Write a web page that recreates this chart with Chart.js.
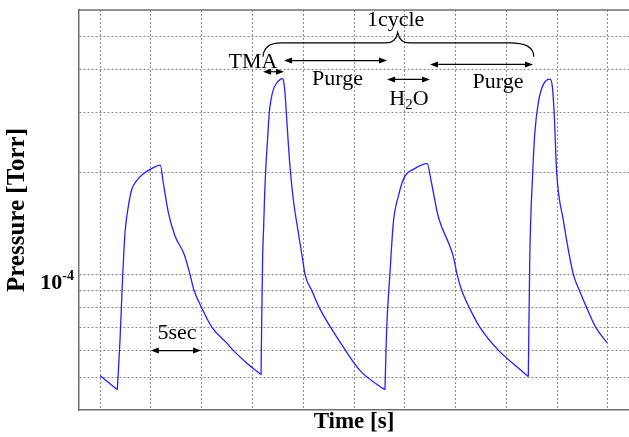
<!DOCTYPE html>
<html>
<head>
<meta charset="utf-8">
<script src="https://cdn.jsdelivr.net/npm/chart.js@4"></script>
<style>
  html, body { margin: 0; padding: 0; background: #fff; }
  canvas { display: block; }
</style>
</head>
<body>
<canvas id="pressure" width="629" height="437"></canvas>
<script>
// time [s]
var timeS = [0, 1.7, 1.97, 2.2, 2.46, 2.79, 3.12, 3.61, 4.27, 5.08, 5.94, 6.23, 6.73, 7.38, 8.3, 8.86,
  9.25, 10.0, 11.02, 12.47, 13.09, 14.43, 15.85,
  16.0, 16.11, 16.21, 16.31, 16.47, 16.66, 16.83, 17.06, 17.39, 17.72, 17.94,
  18.04, 18.21, 18.38, 18.53, 18.7, 19.03, 19.52, 19.95, 20.18, 20.83, 21.58, 22.7, 24.15, 25.6, 27.56, 28.05,
  28.2, 28.54, 28.87, 29.36, 30.0, 30.84, 32.2,
  32.63, 33.3, 34.45, 34.78, 35.15, 35.6, 36.35, 37.4, 39.2, 41.0, 42.16,
  42.3, 42.59, 42.8, 43.14, 43.63, 44.29,
  44.52, 44.7, 44.95, 45.6, 46.6, 47.18, 47.9, 48.8, 49.93];
// pressure [Torr]
var pressureTorr = [5.05e-5, 4.59e-5, 6.44e-5, 9.47e-5, 1.33e-4, 1.59e-4, 1.78e-4, 1.89e-4, 1.98e-4,
  2.05e-4, 2.10e-4, 1.86e-4, 1.52e-4, 1.30e-4, 1.145e-4, 1.0e-4,
  9.0e-5, 8.0e-5, 7.0e-5, 6.3e-5, 6.0e-5, 5.5e-5, 5.08e-5,
  1.107e-4, 1.39e-4, 1.74e-4, 2.04e-4, 2.44e-4, 2.99e-4, 3.27e-4, 3.50e-4, 3.66e-4, 3.745e-4, 3.77e-4,
  3.74e-4, 3.42e-4, 2.86e-4, 2.44e-4, 2.08e-4, 1.66e-4, 1.33e-4, 1.107e-4, 1.0e-4, 9.0e-5, 8.0e-5,
  7.0e-5, 6.0e-5, 5.22e-5, 4.69e-5, 4.59e-5,
  6.74e-5, 1.01e-4, 1.42e-4, 1.70e-4, 1.945e-4, 2.04e-4, 2.12e-4,
  1.86e-4, 1.48e-4, 1.21e-4, 1.13e-4, 1.0e-4, 9.0e-5, 8.0e-5, 7.0e-5, 6.0e-5, 5.37e-5, 5.02e-5,
  1.107e-4, 1.99e-4, 2.61e-4, 3.20e-4, 3.62e-4, 3.76e-4,
  3.58e-4, 3.0e-4, 2.0e-4, 1.45e-4, 1.0e-4, 9.0e-5, 8.0e-5, 7.0e-5, 6.3e-5];

var xTicks = [0, 5, 10, 15, 20, 25, 30, 35, 40, 45, 50];
var yTicks = [5e-5, 6e-5, 7e-5, 8e-5, 9e-5, 1e-4, 2e-4, 3e-4, 4e-4, 5e-4];
// only one labelled tick: 10^-4
var yLabelValue = 1e-4;
var yLabelBase = '10';
var yLabelExp = '-4';

// annotations, in data units (time, pressure)
var arrows = [
  {from: 16.04, to: 18.11, p: 3.95e-4},
  {from: 18.11, to: 28.25, p: 4.26e-4},
  {from: 28.25, to: 32.48, p: 3.75e-4},
  {from: 32.48, to: 42.62, p: 4.15e-4},
  {from: 5.0, to: 9.94, p: 5.98e-5}
];
var notes = [
  {text: 'TMA', t: 15.06, p: 4.06e-4},
  {text: 'Purge', t: 23.38, p: 3.62e-4},
  {text: 'Purge', t: 39.17, p: 3.55e-4},
  {text: '1cycle', t: 29.1, p: 5.40e-4},
  {text: '5sec', t: 7.58, p: 6.48e-5}
];
var waterNote = {t: 30.41, p: 3.16e-4};
var brace = {from: 16.04, to: 42.7, mid: 29.3, pEnd: 4.37e-4, pBar: 4.8e-4, pTip: 5.15e-4};

var serif = '"Liberation Serif", "Times New Roman", serif';
var gridColor = '#8a8a8a';
var frameColor = '#6e6e6e';
var lineColor = 'rgb(35, 35, 255)';

var annotate = {
  id: 'annotate',
  afterDraw: function(chart) {
    var ctx = chart.ctx, xs = chart.scales.x, ys = chart.scales.y, area = chart.chartArea;
    ctx.save();

    // top frame line
    ctx.strokeStyle = frameColor;
    ctx.lineWidth = 1.5;
    ctx.beginPath();
    ctx.moveTo(area.left, area.top);
    ctx.lineTo(area.right, area.top);
    ctx.stroke();

    // y label 10^-4
    var py = ys.getPixelForValue(yLabelValue);
    ctx.fillStyle = '#000';
    ctx.textBaseline = 'alphabetic';
    ctx.textAlign = 'left';
    ctx.font = 'bold 14px ' + serif;
    var expW = ctx.measureText(yLabelExp).width;
    ctx.font = 'bold 22px ' + serif;
    var baseW = ctx.measureText(yLabelBase).width;
    var xEnd = area.left - 5;
    ctx.fillText(yLabelBase, xEnd - expW - baseW, py + 14);
    ctx.font = 'bold 14px ' + serif;
    ctx.fillText(yLabelExp, xEnd - expW, py + 5);

    // arrows
    ctx.strokeStyle = '#000';
    ctx.lineWidth = 1.2;
    arrows.forEach(function(a) {
      var x1 = xs.getPixelForValue(a.from), x2 = xs.getPixelForValue(a.to);
      var y = ys.getPixelForValue(a.p);
      ctx.beginPath();
      ctx.moveTo(x1 + 4, y);
      ctx.lineTo(x2 - 4, y);
      ctx.stroke();
      ctx.beginPath();
      ctx.moveTo(x1, y); ctx.lineTo(x1 + 8, y - 3); ctx.lineTo(x1 + 8, y + 3); ctx.closePath();
      ctx.moveTo(x2, y); ctx.lineTo(x2 - 8, y - 3); ctx.lineTo(x2 - 8, y + 3); ctx.closePath();
      ctx.fill();
    });

    // brace
    var xl = xs.getPixelForValue(brace.from), xr = xs.getPixelForValue(brace.to);
    var xm = xs.getPixelForValue(brace.mid);
    var yE = ys.getPixelForValue(brace.pEnd), yB = ys.getPixelForValue(brace.pBar);
    var yT = ys.getPixelForValue(brace.pTip);
    ctx.beginPath();
    ctx.moveTo(xl, yE);
    ctx.quadraticCurveTo(xl + 1, yB, xl + 18, yB);
    ctx.lineTo(xm - 12, yB);
    ctx.quadraticCurveTo(xm - 2, yB, xm, yT);
    ctx.quadraticCurveTo(xm + 2, yB, xm + 12, yB);
    ctx.lineTo(xr - 24, yB);
    ctx.quadraticCurveTo(xr, yB, xr, yE);
    ctx.stroke();

    // text
    ctx.font = '22px ' + serif;
    ctx.textAlign = 'center';
    notes.forEach(function(n) {
      ctx.fillText(n.text, xs.getPixelForValue(n.t), ys.getPixelForValue(n.p));
    });

    // H2O with subscript
    var wx = xs.getPixelForValue(waterNote.t), wy = ys.getPixelForValue(waterNote.p);
    ctx.textAlign = 'left';
    ctx.font = '22px ' + serif;
    var wH = ctx.measureText('H').width, wO = ctx.measureText('O').width;
    ctx.font = '15px ' + serif;
    var w2 = ctx.measureText('2').width;
    var x0 = wx - (wH + w2 + wO) / 2;
    ctx.font = '22px ' + serif;
    ctx.fillText('H', x0, wy);
    ctx.fillText('O', x0 + wH + w2, wy);
    ctx.font = '15px ' + serif;
    ctx.fillText('2', x0 + wH, wy + 4);

    ctx.restore();
  }
};

// split the trace at its minima so each valve pulse keeps a sharp corner at the bottom
var points = timeS.map(function(t, i) { return {x: t, y: pressureTorr[i]}; });
var segments = [];
var start = 0;
for (var i = 1; i < points.length - 1; i++) {
  if (pressureTorr[i] < pressureTorr[i - 1] && pressureTorr[i] < pressureTorr[i + 1]) {
    segments.push(points.slice(start, i + 1));
    start = i;
  }
}
segments.push(points.slice(start));

var datasets = segments.map(function(seg) {
  return {
    data: seg,
    borderColor: lineColor,
    borderWidth: 1.3,
    pointRadius: 0,
    cubicInterpolationMode: 'monotone',
    fill: false
  };
});

new Chart(document.getElementById('pressure').getContext('2d'), {
  type: 'line',
  data: { datasets: datasets },
  options: {
    responsive: false,
    animation: false,
    layout: { padding: { top: 10, right: 0, left: 0, bottom: 0 } },
    plugins: { legend: { display: false }, tooltip: { enabled: false } },
    scales: {
      x: {
        type: 'linear',
        min: -2.07,
        max: 52.07,
        afterBuildTicks: function(scale) { scale.ticks = xTicks.map(function(v) { return {value: v}; }); },
        afterFit: function(scale) { scale.height = 27; },
        ticks: { display: false },
        grid: { color: gridColor, lineWidth: 1, drawTicks: false },
        border: { display: true, color: frameColor, width: 1.5, dash: [2, 2] },
        title: {
          display: true,
          text: 'Time [s]',
          color: '#000',
          font: { family: serif, size: 23, weight: 'bold', lineHeight: 1.2 },
          padding: { top: 0, bottom: 1 }
        }
      },
      y: {
        type: 'logarithmic',
        min: 4e-5,
        max: 6e-4,
        afterBuildTicks: function(scale) { scale.ticks = yTicks.map(function(v) { return {value: v}; }); },
        afterFit: function(scale) { scale.width = 79; },
        ticks: { display: false },
        grid: { color: gridColor, lineWidth: 1, drawTicks: false },
        border: { display: true, color: frameColor, width: 1.5, dash: [2, 2] },
        title: {
          display: true,
          text: 'Pressure [Torr]',
          color: '#000',
          font: { family: serif, size: 25, weight: 'bold', lineHeight: 1.2 },
          padding: { top: 3, bottom: 0 }
        }
      }
    }
  },
  plugins: [annotate]
});
</script>
</body>
</html>
